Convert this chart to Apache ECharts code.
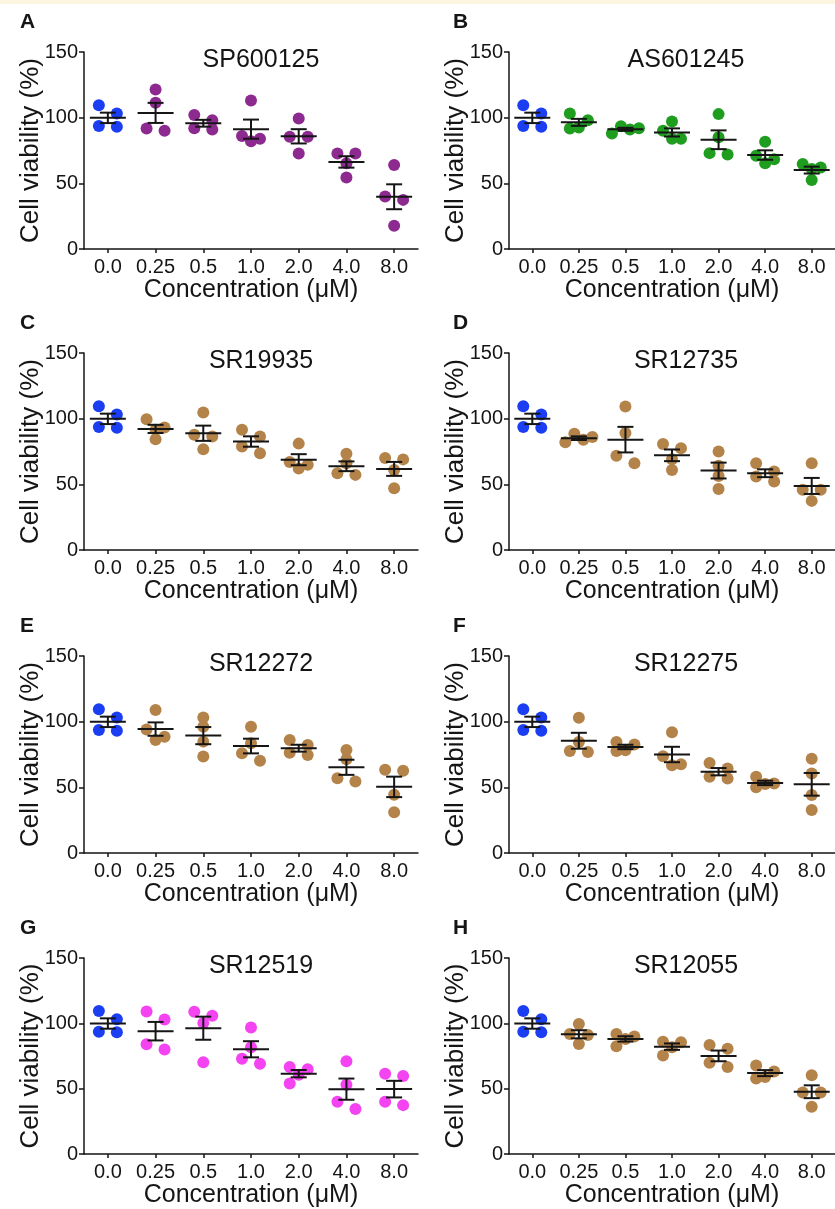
<!DOCTYPE html>
<html>
<head>
<meta charset="utf-8">
<script src="https://cdn.jsdelivr.net/npm/echarts@6/dist/echarts.min.js"></script>
<style>
  html, body { margin: 0; padding: 0; background: #ffffff; }
  #chart { width: 835px; height: 1209px; }
</style>
</head>
<body>
<div id="chart"></div>
<script>
// ---- data -------------------------------------------------------------
const doses = ['0.0', '0.25', '0.5', '1.0', '2.0', '4.0', '8.0'];
const yTicks = [0, 50, 100, 150];

const drugNames = ['SP600125', 'AS601245', 'SR19935', 'SR12735', 'SR12272', 'SR12275', 'SR12519', 'SR12055'];
const panelLetters = ['A', 'B', 'C', 'D', 'E', 'F', 'G', 'H'];

// vehicle control (0.0 µM), four replicates
const control = [109.5, 103.2, 93.6, 93.1];

// treated wells: one row of four replicates per dose 0.25 … 8.0 µM
const sp600125 = [[121.4, 111.3, 91.8, 90.0], [98, 102, 91, 92], [113, 82, 84, 86], [99.4, 85.5, 85.5, 72.8], [72.8, 72.8, 65.2, 54.4], [64, 40, 37.4, 17.7]];
const as601245 = [[91.8, 103.2, 98.1, 92.6], [93.5, 92, 91, 88], [97, 90, 84, 84], [102.7, 85, 72, 73], [81.7, 65.2, 68.3, 71], [64.7, 52.6, 62, 61]];
const sr19935  = [[99.6, 93.3, 91.5, 84.4], [104.7, 87.7, 86.4, 76.8], [86.4, 91.5, 73.7, 78.8], [81, 67, 65, 62], [73.2, 66.1, 57.2, 58.5], [69, 70, 61, 47]];
const sr12735  = [[88.5, 86, 84, 82], [109.3, 89, 66.1, 71.7], [77.5, 80.8, 61, 69.1], [75, 64.1, 56.4, 46.5], [52.1, 59.7, 66.1, 55.9], [66.1, 37.4, 45.8, 45.8]];
const sr12272  = [[108.8, 94, 88.6, 86], [96.1, 103.2, 73.4, 84.8], [96.1, 70.3, 75.9, 83.5], [86, 82.2, 74.6, 76.4], [71.3, 78.4, 54.4, 56.9], [62.7, 63.3, 44.3, 31.1]];
const sr12275  = [[102.9, 76.9, 77.6, 84.5], [84.5, 82.7, 78.2, 77.6], [92, 66.8, 67.6, 73.6], [68.6, 56.7, 58, 64.3], [50, 58, 52.5, 53], [71.8, 60.5, 44.1, 32.8]];
const sr12519  = [[109, 103, 80, 84], [108.8, 105.8, 100.2, 70.3], [96.9, 69.1, 72.9, 81.7], [66.5, 64.8, 60.7, 53.9], [71, 53, 40, 34.5], [59.7, 61.5, 37.4, 40]];
const sr12055  = [[99.4, 84.2, 91.8, 91.1], [91.8, 90, 82.5, 88], [86, 85.5, 75.4, 81.7], [80.5, 83.5, 66.5, 69.8], [57.7, 63.2, 67.8, 58.9], [60.2, 47.1, 47.1, 36.2]];

const treated = [sp600125, as601245, sr19935, sr12735, sr12272, sr12275, sr12519, sr12055];

// ---- styling / layout -------------------------------------------------
const FONT = '"Liberation Sans", Arial, Helvetica, sans-serif';
const INK = '#151515';
const controlColor = '#1c3ef2';
const drugColors = ['#8c2a8f', '#1f9d1f', '#b3834a', '#b3834a', '#b3834a', '#b3834a', '#f444f2', '#b3834a'];

const colLeft = [84, 509];
const letterX = [20, 453];
const rowTop = [52, 353, 656, 958];
const plotW = 334;
const plotH = 197;
const yMin = yTicks[0], yMax = yTicks[yTicks.length - 1];
const yStep = yTicks[1] - yTicks[0];
const pxPerUnit = plotH / (yMax - yMin);

const DOT = 12;        // dot diameter
const STEP = 9;        // horizontal spread of crowded dots
const MIN_D = 9;       // dots closer than this get pushed sideways

// column scatter layout: crowded replicates are split left/right
function swarm(values) {
  const order = values.map((v, i) => i).sort((a, b) => values[b] - values[a]);
  const off = new Array(values.length);
  const placed = [];
  const collides = (v, dx, skip) => placed.some(j => j !== skip &&
    Math.hypot(off[j] - dx, (values[j] - v) * pxPerUnit) < MIN_D);
  for (const i of order) {
    const v = values[i];
    if (!collides(v, 0)) { off[i] = 0; placed.push(i); continue; }
    const hit = placed.filter(j => off[j] === 0 &&
      Math.abs((values[j] - v) * pxPerUnit) < MIN_D);
    if (hit.length === 1) {
      const j = hit[0];
      off[j] = -STEP;
      if (!collides(values[j], -STEP, j) && !collides(v, STEP)) {
        off[i] = STEP; placed.push(i); continue;
      }
      off[j] = 0;
    }
    for (const dx of [-STEP, STEP, -2 * STEP, 2 * STEP, -3 * STEP, 3 * STEP]) {
      if (!collides(v, dx)) { off[i] = dx; break; }
    }
    if (off[i] === undefined) off[i] = 0;
    placed.push(i);
  }
  // centre each crowded cluster on the column
  let start = 0;
  for (let k = 1; k <= order.length; k++) {
    const gapBreak = k === order.length ||
      (values[order[k - 1]] - values[order[k]]) * pxPerUnit >= MIN_D;
    if (gapBreak) {
      const idx = order.slice(start, k);
      const lo = Math.min(...idx.map(i => off[i]));
      const hi = Math.max(...idx.map(i => off[i]));
      const shift = (lo + hi) / 2;
      idx.forEach(i => { off[i] -= shift; });
      start = k;
    }
  }
  return off;
}

function meanSem(values) {
  const n = values.length;
  const m = values.reduce((a, b) => a + b, 0) / n;
  const sd = Math.sqrt(values.reduce((a, b) => a + (b - m) * (b - m), 0) / (n - 1));
  return [m, sd / Math.sqrt(n)];
}

function renderErrorBar(params, api) {
  const g = api.value(0), m = api.value(1), s = api.value(2);
  const c = api.coord([g, m]);
  const top = api.coord([g, m + s]);
  const bot = api.coord([g, m - s]);
  const style = { stroke: INK, lineWidth: 2 };
  return {
    type: 'group',
    children: [
      { type: 'line', shape: { x1: c[0] - 18, y1: c[1], x2: c[0] + 18, y2: c[1] }, style },
      { type: 'line', shape: { x1: c[0], y1: top[1], x2: c[0], y2: bot[1] }, style },
      { type: 'line', shape: { x1: c[0] - 8, y1: top[1], x2: c[0] + 8, y2: top[1] }, style },
      { type: 'line', shape: { x1: c[0] - 8, y1: bot[1], x2: c[0] + 8, y2: bot[1] }, style }
    ]
  };
}

const grids = [], xAxes = [], yAxes = [], titles = [], series = [];

treated.forEach((groups, p) => {
  const col = p % 2, row = Math.floor(p / 2);
  grids.push({ left: colLeft[col], top: rowTop[row], width: plotW, height: plotH, containLabel: false });

  xAxes.push({
    type: 'category', gridIndex: p, data: doses, boundaryGap: true,
    axisLine: { show: true, lineStyle: { color: INK, width: 1.5 } },
    axisTick: { show: true, alignWithLabel: true, length: 4, lineStyle: { color: INK, width: 1.5 } },
    axisLabel: { interval: 0, fontSize: 20, color: INK, fontFamily: FONT, margin: 8 },
    splitLine: { show: false },
    name: 'Concentration (μM)', nameLocation: 'middle', nameGap: 29, nameMoveOverlap: false,
    nameTextStyle: { fontSize: 25, color: INK, fontFamily: FONT }
  });

  yAxes.push({
    type: 'value', gridIndex: p, min: yMin, max: yMax, interval: yStep,
    axisLine: { show: true, lineStyle: { color: INK, width: 1.5 } },
    axisTick: { show: true, inside: false, length: 5, lineStyle: { color: INK, width: 1.5 } },
    axisLabel: { fontSize: 20, color: INK, fontFamily: FONT, margin: 6 },
    splitLine: { show: false },
    name: 'Cell viability (%)', nameLocation: 'middle', nameRotate: 90, nameGap: 40, nameMoveOverlap: false,
    nameTextStyle: { fontSize: 26, color: INK, fontFamily: FONT }
  });

  titles.push({
    text: drugNames[p], left: colLeft[col] + plotW / 2 + 10, top: rowTop[row] - 4,
    textAlign: 'center', padding: 0,
    textStyle: { fontSize: 25, fontWeight: 'normal', color: INK, fontFamily: FONT }
  });
  titles.push({
    text: panelLetters[p], left: letterX[col], top: rowTop[row] - 40, padding: 0,
    textStyle: { fontSize: 21, fontWeight: 'bold', color: INK, fontFamily: FONT }
  });

  const allGroups = [control].concat(groups);
  const dots = [];
  const bars = [];
  allGroups.forEach((vals, g) => {
    const off = swarm(vals);
    const color = g === 0 ? controlColor : drugColors[p];
    vals.forEach((v, k) => {
      dots.push({ value: [g, v], symbolOffset: [off[k], 0], itemStyle: { color } });
    });
    const [m, s] = meanSem(vals);
    bars.push([g, m, s]);
  });

  series.push({
    type: 'scatter', xAxisIndex: p, yAxisIndex: p, data: dots,
    symbol: 'circle', symbolSize: DOT, silent: true, z: 2,
    itemStyle: { opacity: 1, borderWidth: 0 }
  });
  series.push({
    type: 'custom', xAxisIndex: p, yAxisIndex: p, data: bars,
    encode: { x: 0, y: 1 }, renderItem: renderErrorBar, silent: true, z: 3, clip: false
  });
});

const chart = echarts.init(document.getElementById('chart'), null, { renderer: 'canvas' });
chart.setOption({
  animation: false,
  backgroundColor: '#ffffff',
  textStyle: { fontFamily: FONT },
  title: titles,
  grid: grids,
  xAxis: xAxes,
  yAxis: yAxes,
  series: series,
  graphic: [{
    type: 'rect', left: 0, top: 0, z: 100,
    shape: { width: 835, height: 4 },
    style: { fill: '#fcf5e0' }
  }]
});
</script>
</body>
</html>
